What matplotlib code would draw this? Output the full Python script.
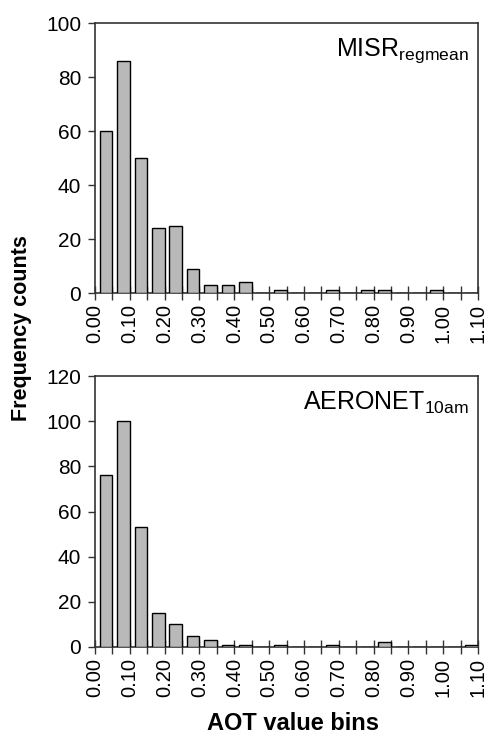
import numpy as np
import matplotlib
matplotlib.use("Agg")
import matplotlib.pyplot as plt

plt.rcParams['font.family'] = ['Liberation Sans', 'DejaVu Sans']
plt.rcParams['mathtext.fontset'] = 'custom'
plt.rcParams['mathtext.rm'] = 'Liberation Sans'
plt.rcParams['mathtext.it'] = 'Liberation Sans'

# AOT bins: left edges, bin width 0.05
bin_width = 0.05
bin_left = np.round(np.arange(0.0, 1.10, bin_width), 2)
misr_counts = [60, 86, 50, 24, 25, 9, 3, 3, 4, 0, 1, 0, 0, 1, 0, 1, 1, 0, 0, 1, 0, 0]
aeronet_counts = [76, 100, 53, 15, 10, 5, 3, 1, 1, 0, 1, 0, 0, 1, 0, 0, 2, 0, 0, 0, 0, 1]
tick_labels = ['0.00', '0.10', '0.20', '0.30', '0.40', '0.50', '0.60',
               '0.70', '0.80', '0.90', '1.00', '1.10']
tick_values = [float(t) for t in tick_labels]

W, H = 488, 735
fig = plt.figure(figsize=(W / 100, H / 100), dpi=100)

def make_axes(top_px, bottom_px):
    left, right = 95, 478
    return fig.add_axes([left / W, 1 - bottom_px / H, (right - left) / W, (bottom_px - top_px) / H])

ax1 = make_axes(23, 293)
ax2 = make_axes(376, 647)

bar_frac = 0.73
for ax, counts, ymax, label in [
    (ax1, misr_counts, 100, r'MISR$_{\mathrm{regmean}}$'),
    (ax2, aeronet_counts, 120, r'AERONET$_{\mathrm{10am}}$'),
]:
    right_edges = bin_left + bin_width
    ax.bar(right_edges, counts, width=-bin_width * bar_frac, align='edge',
           color='#b9b9b9', edgecolor='black', linewidth=1.0, zorder=3)
    ax.set_xlim(0, 1.10)
    ax.set_ylim(0, ymax)
    ax.set_yticks(np.arange(0, ymax + 1, 20))
    ax.set_xticks(tick_values)
    ax.set_xticklabels(tick_labels, rotation=90)
    ax.set_xticks(np.arange(0.05, 1.10, 0.1), minor=True)
    ax.tick_params(axis='x', which='both', direction='inout', length=10, width=1.0,
                   labelsize=14.5, pad=3, color='#333333')
    ax.tick_params(axis='y', direction='out', length=5, width=1.0,
                   labelsize=15, pad=5, color='#333333')
    for s in ax.spines.values():
        s.set_color('#333333')
        s.set_linewidth(1.2)
    ax.text(0.977, 0.95, label, transform=ax.transAxes, ha='right', va='top',
            fontsize=18)

fig.text(22 / W, 1 - 328 / H, 'Frequency counts', rotation=90, ha='center', va='center',
         fontsize=15.5, fontweight='bold')
fig.text(293 / W, 1 - 724 / H, 'AOT value bins', ha='center', va='center',
         fontsize=17, fontweight='bold')

fig.savefig('out.png', dpi=100)
